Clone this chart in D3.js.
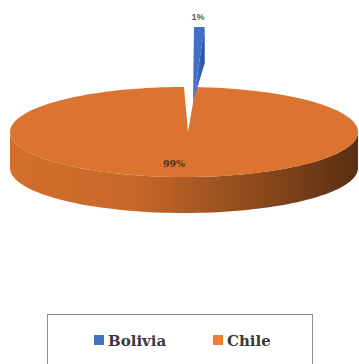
<!DOCTYPE html>
<html><head><meta charset="utf-8">
<script src="https://cdn.jsdelivr.net/npm/d3@7"></script>
<style>body{margin:0;background:#fff}svg{display:block}</style>
</head><body>
<svg id="c" width="359" height="364"></svg>
<script>
const categories = ["Bolivia", "Chile"];
const values = [1, 99];
const colors = ["#3F6EC6", "#DC7330"];
const legendColors = ["#4472C4", "#ED7D31"];
const labels = ["1%", "99%"];

const svg = d3.select("#c");
const cx = 184, cy = 132, rx = 174, ry = 45, depth = 36;
const pie = d3.pie().sort(null).value(d => d)(values);
const pt = (a, r1 = rx, r2 = ry, ox = cx, oy = cy) => [ox + r1 * Math.sin(a), oy - r2 * Math.cos(a)];
const line = d3.line();
const defs = svg.append("defs");
const g1 = defs.append("linearGradient").attr("id", "side").attr("x1", "0").attr("x2", "1").attr("y1", "0").attr("y2", "0");
g1.append("stop").attr("offset", "0").attr("stop-color", "#D46E2C");
g1.append("stop").attr("offset", "0.35").attr("stop-color", "#C8682A");
g1.append("stop").attr("offset", "0.7").attr("stop-color", "#8E4A1C");
g1.append("stop").attr("offset", "1").attr("stop-color", "#5A2F12");
const g2 = defs.append("linearGradient").attr("id", "bside").attr("x1", "0").attr("x2", "1").attr("y1", "0").attr("y2", "0");
g2.append("stop").attr("offset", "0").attr("stop-color", "#4A7BD0");
g2.append("stop").attr("offset", "1").attr("stop-color", "#2A4F96");

// Chile slice (index 1)
const chile = pie[1];
const gap = 0.005;
const sidePts = [];
const a0 = Math.max(Math.PI / 2, chile.startAngle), a1 = Math.min(3 * Math.PI / 2, chile.endAngle);
for (let i = 0; i <= 80; i++) { const a = a0 + (a1 - a0) * i / 80; sidePts.push(pt(a)); }
for (let i = 80; i >= 0; i--) { const a = a0 + (a1 - a0) * i / 80; const p = pt(a); sidePts.push([p[0], p[1] + depth]); }
svg.append("path").attr("d", line(sidePts) + "Z").attr("fill", "url(#side)");
const apex = [188, 132];
const topPts = [apex];
for (let i = 0; i <= 200; i++) { const a = chile.startAngle + gap + (chile.endAngle - chile.startAngle - gap) * i / 200; topPts.push(pt(a)); }
svg.append("path").attr("d", line(topPts) + "Z").attr("fill", colors[1]);

// Bolivia slice (index 0), exploded upward
const bol = pie[0];
const bApex = [193, 102], bry = 75, brx = 170;
const bPts = [bApex];
for (let i = 0; i <= 10; i++) { const a = bol.startAngle + (bol.endAngle - bol.startAngle) * i / 10; bPts.push(pt(a, brx, bry, bApex[0] + 1, bApex[1])); }
svg.append("path").attr("d", line(bPts) + "Z").attr("fill", colors[0]);
const be = pt(bol.endAngle, brx, bry, bApex[0] + 1, bApex[1]);
svg.append("path").attr("d", line([be, [be[0], be[1] + 36], bApex]) + "Z").attr("fill", "url(#bside)");

// labels
svg.append("text").attr("x", 198).attr("y", 20).attr("text-anchor", "middle")
  .attr("font-family", "Liberation Sans, sans-serif").attr("font-size", 9).attr("font-weight", "bold").attr("fill", "#595959").text(labels[0]);
svg.append("text").attr("x", 174).attr("y", 167).attr("text-anchor", "middle")
  .attr("font-family", "DejaVu Serif, serif").attr("font-size", 9.5).attr("font-weight", "bold").attr("fill", "#4a3020").text(labels[1]);

// legend
svg.append("rect").attr("x", 47.5).attr("y", 314.5).attr("width", 265).attr("height", 60).attr("fill", "#fff").attr("stroke", "#8c8c8c");
const lx = [94, 213];
categories.forEach((c, i) => {
  svg.append("rect").attr("x", lx[i]).attr("y", 335).attr("width", 10).attr("height", 10).attr("fill", legendColors[i]);
  svg.append("text").attr("x", lx[i] + 14).attr("y", 346).attr("font-family", "DejaVu Serif, serif")
    .attr("font-size", 15).attr("font-weight", "bold").attr("fill", "#3a3a3a").text(c);
});
</script>
</body></html>
